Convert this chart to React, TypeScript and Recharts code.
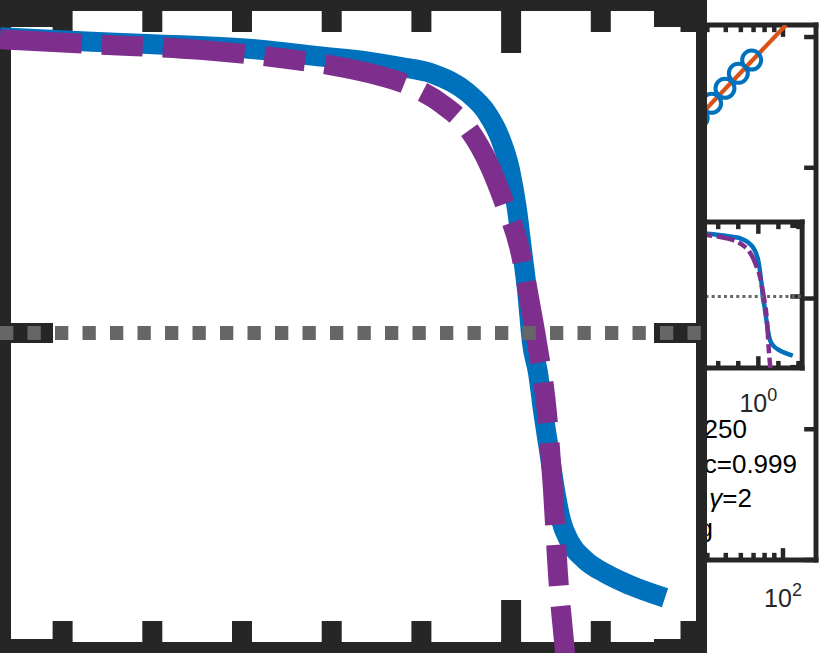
import React from 'react';
import { LineChart, Line, XAxis, YAxis, ReferenceLine } from 'recharts';

// ---------- zoomed panel + lower inset (same data, two magnifications) ----------
const X_DOMAIN: [number, number] = [-0.698, 7.184];
const Y_DOMAIN: [number, number] = [-0.0063, 1.0269];
const X_TICKS = [0, 1, 2, 3, 4, 5, 6, 7];
const X_MAJOR_TICK = 5;
const Y_TICKS = [0, 0.5, 1];
const THRESHOLD = 0.5;
const X_MAJOR_LABEL = ['10', '0'];

const BLUE_X = [-0.698, 0.328, 1.008, 2.145, 2.847, 3.427, 3.761, 4.129, 4.508, 4.731, 4.876, 4.988, 5.066, 5.122, 5.177, 5.233, 5.3, 5.355, 5.422, 5.489, 5.556, 5.656, 5.824, 6.047, 6.326, 6.716];
const BLUE_Y = [0.968, 0.961, 0.957, 0.949, 0.938, 0.929, 0.921, 0.91, 0.881, 0.848, 0.809, 0.758, 0.695, 0.631, 0.568, 0.484, 0.437, 0.378, 0.315, 0.252, 0.204, 0.169, 0.141, 0.12, 0.101, 0.081];
const PURPLE_X = [-0.698, 0.328, 1.532, 2.491, 2.981, 3.427, 3.873, 4.241, 4.508, 4.765, 4.932, 5.099, 5.211, 5.289, 5.4, 5.467, 5.522, 5.601, 5.635];
const PURPLE_Y = [0.965, 0.957, 0.948, 0.934, 0.924, 0.911, 0.891, 0.861, 0.826, 0.763, 0.703, 0.631, 0.547, 0.484, 0.373, 0.252, 0.12, -0.006, -0.065];

// ---------- large right-hand axes (log x) ----------
const BIG_X_DOMAIN: [number, number] = [10, 149.2];
const BIG_Y_DOMAIN: [number, number] = [0, 4.092];
const BIG_X_TICKS = [10, 20, 30, 40, 50, 60, 70, 80, 90, 100];
const BIG_X_MAJOR = [10, 100];
const BIG_Y_TICKS = [0, 1, 2, 3, 4];
const BIG_LABEL_TICK = 100;
const BIG_LABEL = ['10', '2'];
const MARKER_X = [35.8, 42.1, 49.5, 58.2, 68.4];
const MARKER_Y = [3.38, 3.493, 3.608, 3.722, 3.824];
const FIT_X = [30, 103.7];
const FIT_Y = [3.27, 4.092];

const NOTES = ['250', 'c=0.999', 'γ=2', 'g'];

// ---------- styling / layout ----------
const BLUE = '#0072BD';
const PURPLE = '#7E2F8E';
const ORANGE = '#D95319';
const AXIS = '#262626';
const DOT_GREY = '#666666';
const FONT = '"Liberation Sans", Arial, Helvetica, sans-serif';

const MAIN_W = 707;
const MAIN_H = 653;
const ZOOM = 4.47;
const FRAME_W = 22;
const TICK_W = 20;
const MINOR_LEN = 32;
const MAJOR_LEN = 53;
const LINE_W = 20;
const DASH = [82, 20, 41, 20];
const DOT_W = 14;
const DOT_DASH = [13.3, 14.2];

const INSET_RIGHT = 802;
const INSET_TOP = 222;
const BIG = { left: 593, top: 25, right: 816, bottom: 560 };

const toPts = (xs: number[], ys: number[]) => xs.map((x, i) => ({ x, y: ys[i] }));
const BLUE_DATA = toPts(BLUE_X, BLUE_Y);
const PURPLE_DATA = toPts(PURPLE_X, PURPLE_Y);
const DOTTED_DATA = toPts(X_DOMAIN, [THRESHOLD, THRESHOLD]);
const MARKER_DATA = toPts(MARKER_X, MARKER_Y);
const FIT_DATA = toPts(FIT_X, FIT_Y);

const PowerLabel = (props: any) => {
  const { x, y, base, exp, dy } = props;
  return (
    <text x={x} y={y + dy} textAnchor="middle" fontFamily={FONT} fontSize={25} fill={AXIS}>
      {base}
      <tspan dy={-11} fontSize={18}>{exp}</tspan>
    </text>
  );
};

type PanelProps = { left: number; top: number; s: number; pad: number; labelRoom: number };

function ZoomPanel({ left, top, s, pad, labelRoom }: PanelProps) {
  const w = MAIN_W * s;
  const h = MAIN_H * s;
  const showLabel = labelRoom > 0;
  const [x0, x1] = X_DOMAIN;
  const [y0, y1] = Y_DOMAIN;
  const pxPerX = MAIN_W / (x1 - x0);
  const pxPerY = MAIN_H / (y1 - y0);
  const minorY = MINOR_LEN / pxPerY;
  const majorY = MAJOR_LEN / pxPerY;
  const majorX = MAJOR_LEN / pxPerX;
  const fr = { stroke: AXIS, strokeWidth: FRAME_W * s, strokeLinecap: 'square' as const, ifOverflow: 'visible' as const };
  const tk = { stroke: AXIS, strokeWidth: TICK_W * s, ifOverflow: 'visible' as const };

  return (
    <div style={{ position: 'absolute', left: left - pad, top: top - pad }}>
      <LineChart
        width={w + 2 * pad}
        height={h + pad + (showLabel ? labelRoom : pad)}
        margin={{ top: pad, right: pad, left: pad, bottom: showLabel ? 0 : pad }}
      >
        <XAxis
          type="number"
          dataKey="x"
          domain={X_DOMAIN}
          allowDataOverflow
          hide={!showLabel}
          ticks={[X_MAJOR_TICK]}
          interval={0}
          axisLine={false}
          tickLine={false}
          tickSize={0}
          height={showLabel ? labelRoom : 0}
          tick={(p: any) => <PowerLabel x={p.x} y={p.y} dy={42} base={X_MAJOR_LABEL[0]} exp={X_MAJOR_LABEL[1]} />}
        />
        <YAxis type="number" dataKey="y" domain={Y_DOMAIN} allowDataOverflow hide />
        <ReferenceLine x={x0} {...fr} />
        <ReferenceLine x={x1} {...fr} />
        <ReferenceLine y={y0} {...fr} />
        <ReferenceLine y={y1} {...fr} />
        {X_TICKS.map((k) => {
          const len = k === X_MAJOR_TICK ? majorY : minorY;
          return (
            <React.Fragment key={'xt' + k}>
              <ReferenceLine segment={[{ x: k, y: y0 }, { x: k, y: y0 + len }]} {...tk} />
              <ReferenceLine segment={[{ x: k, y: y1 }, { x: k, y: y1 - len }]} {...tk} />
            </React.Fragment>
          );
        })}
        {Y_TICKS.map((v) => (
          <React.Fragment key={'yt' + v}>
            <ReferenceLine segment={[{ x: x0, y: v }, { x: x0 + majorX, y: v }]} {...tk} />
            <ReferenceLine segment={[{ x: x1, y: v }, { x: x1 - majorX, y: v }]} {...tk} />
          </React.Fragment>
        ))}
        <Line data={BLUE_DATA} dataKey="y" type="monotone" stroke={BLUE} strokeWidth={LINE_W * s} dot={false} activeDot={false} isAnimationActive={false} strokeLinejoin="round" />
        <Line data={PURPLE_DATA} dataKey="y" type="monotone" stroke={PURPLE} strokeWidth={LINE_W * s} strokeDasharray={DASH.map((d) => d * s).join(' ')} dot={false} activeDot={false} isAnimationActive={false} strokeLinejoin="round" />
        <Line data={DOTTED_DATA} dataKey="y" type="linear" stroke={DOT_GREY} strokeWidth={DOT_W * s} strokeDasharray={DOT_DASH.map((d) => d * s).join(' ')} dot={false} activeDot={false} isAnimationActive={false} />
      </LineChart>
    </div>
  );
}

function BigAxes() {
  const s = 1 / ZOOM;
  const pad = 4;
  const labelRoom = 60;
  const w = BIG.right - BIG.left;
  const h = BIG.bottom - BIG.top;
  const [x0, x1] = BIG_X_DOMAIN;
  const [y0, y1] = BIG_Y_DOMAIN;
  const pxPerDecade = w / Math.log10(x1 / x0);
  const pxPerY = h / (y1 - y0);
  const minorY = (MINOR_LEN * s) / pxPerY;
  const majorY = (MAJOR_LEN * s) / pxPerY;
  const yTickEnd = x1 / Math.pow(10, (MAJOR_LEN * s) / pxPerDecade);
  const fr = { stroke: AXIS, strokeWidth: FRAME_W * s, strokeLinecap: 'square' as const, ifOverflow: 'visible' as const };
  const tk = { stroke: AXIS, strokeWidth: TICK_W * s, ifOverflow: 'visible' as const };

  return (
    <div style={{ position: 'absolute', left: BIG.left - pad, top: BIG.top - pad }}>
      <LineChart width={w + 2 * pad} height={h + pad + labelRoom} margin={{ top: pad, right: pad, left: pad, bottom: 0 }}>
        <XAxis
          type="number"
          dataKey="x"
          scale="log"
          domain={BIG_X_DOMAIN}
          allowDataOverflow
          ticks={[BIG_LABEL_TICK]}
          interval={0}
          axisLine={false}
          tickLine={false}
          tickSize={0}
          height={labelRoom}
          tick={(p: any) => <PowerLabel x={p.x} y={p.y} dy={45} base={BIG_LABEL[0]} exp={BIG_LABEL[1]} />}
        />
        <YAxis type="number" dataKey="y" domain={BIG_Y_DOMAIN} allowDataOverflow hide />
        <ReferenceLine x={x0} {...fr} />
        <ReferenceLine x={x1} {...fr} />
        <ReferenceLine y={y0} {...fr} />
        <ReferenceLine y={y1} {...fr} />
        {BIG_X_TICKS.map((v) => {
          const len = BIG_X_MAJOR.includes(v) ? majorY : minorY;
          return (
            <React.Fragment key={'bx' + v}>
              <ReferenceLine segment={[{ x: v, y: y0 }, { x: v, y: y0 + len }]} {...tk} />
              <ReferenceLine segment={[{ x: v, y: y1 }, { x: v, y: y1 - len }]} {...tk} />
            </React.Fragment>
          );
        })}
        {BIG_Y_TICKS.map((v) => (
          <ReferenceLine key={'by' + v} segment={[{ x: x1, y: v }, { x: yTickEnd, y: v }]} {...tk} />
        ))}
        <Line data={MARKER_DATA} dataKey="y" stroke="none" isAnimationActive={false} activeDot={false}
          dot={{ r: 9.5, fill: 'none', stroke: BLUE, strokeWidth: 4 }} />
        <Line data={FIT_DATA} dataKey="y" type="linear" stroke={ORANGE} strokeWidth={4.2} dot={false} activeDot={false} isAnimationActive={false} />
      </LineChart>
    </div>
  );
}

const NOTE_POS = [
  { x: 747, y: 438 },
  { x: 797, y: 473 },
  { x: 752, y: 507 },
  { x: 713, y: 537 },
];

function Notes() {
  return (
    <svg width={830} height={653} style={{ position: 'absolute', left: 0, top: 0 }}>
      {NOTES.map((t, i) => (
        <text key={t} x={NOTE_POS[i].x} y={NOTE_POS[i].y} textAnchor="end" fontFamily={FONT} fontSize={26} fill="#000">
          {t.startsWith('γ') ? (
            <>
              <tspan fontStyle="italic">γ</tspan>
              {t.slice(1)}
            </>
          ) : (
            t
          )}
        </text>
      ))}
    </svg>
  );
}

export default function App() {
  const s = 1 / ZOOM;
  return (
    <div style={{ position: 'absolute', left: 0, top: 0, width: 830, height: 653, overflow: 'hidden', background: '#fff' }}>
      <BigAxes />
      <Notes />
      <ZoomPanel left={INSET_RIGHT - MAIN_W * s} top={INSET_TOP} s={s} pad={4} labelRoom={50} />
      <div style={{ position: 'absolute', left: 0, top: 0, width: MAIN_W, height: MAIN_H, background: '#fff' }}>
        <ZoomPanel left={0} top={0} s={1} pad={0} labelRoom={0} />
      </div>
    </div>
  );
}
